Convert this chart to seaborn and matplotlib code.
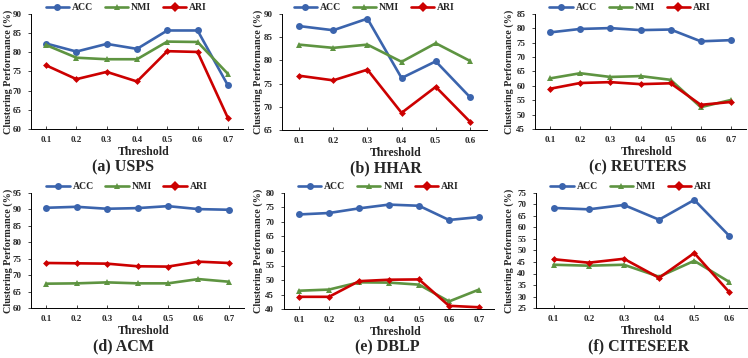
import numpy as np
import pandas as pd
import matplotlib
matplotlib.use("Agg")
import matplotlib.pyplot as plt
import seaborn as sns

sns.set_theme(style="white")
plt.rcParams['font.family'] = ['Liberation Serif', 'DejaVu Serif']
plt.rcParams['font.weight'] = 'bold'
plt.rcParams['axes.labelweight'] = 'bold'

metrics = ["ACC", "NMI", "ARI"]
thr7 = ["0.1", "0.2", "0.3", "0.4", "0.5", "0.6", "0.7"]
thr6 = ["0.1", "0.2", "0.3", "0.4", "0.5", "0.6"]

usps_acc = [82.3, 80.2, 82.2, 80.9, 85.7, 85.7, 71.4]
usps_nmi = [81.9, 78.6, 78.2, 78.2, 82.8, 82.7, 74.4]
usps_ari = [76.6, 73.0, 74.9, 72.4, 80.3, 80.1, 62.9]

hhar_acc = [87.4, 86.5, 89.0, 76.2, 79.8, 72.1]
hhar_nmi = [83.4, 82.7, 83.4, 79.7, 83.7, 79.9]
hhar_ari = [76.7, 75.7, 78.0, 68.7, 74.3, 66.8]

reut_acc = [78.6, 79.8, 80.1, 79.4, 79.6, 75.5, 75.9]
reut_nmi = [62.6, 64.4, 63.1, 63.4, 62.1, 52.6, 55.1]
reut_ari = [59.0, 61.0, 61.3, 60.6, 60.9, 53.4, 54.4]

acm_acc = [90.5, 90.8, 90.2, 90.4, 91.0, 90.1, 89.9]
acm_nmi = [67.4, 67.5, 67.8, 67.5, 67.5, 68.8, 68.0]
acm_ari = [73.7, 73.6, 73.5, 72.7, 72.6, 74.1, 73.7]

dblp_acc = [72.6, 73.1, 74.7, 76.0, 75.6, 70.7, 71.7]
dblp_nmi = [46.3, 46.7, 49.2, 49.1, 48.4, 42.6, 46.7]
dblp_ari = [44.2, 44.2, 49.6, 50.1, 50.2, 41.1, 40.6]

cite_acc = [68.5, 67.9, 69.8, 63.4, 72.0, 56.3]
cite_nmi = [43.8, 43.4, 43.8, 38.6, 45.5, 36.3]
cite_ari = [46.2, 44.7, 46.4, 38.1, 48.9, 31.8]

panels = [
    ("(a) USPS", thr7, usps_acc, usps_nmi, usps_ari, (60, 90), 5),
    ("(b) HHAR", thr6, hhar_acc, hhar_nmi, hhar_ari, (65, 90), 5),
    ("(c) REUTERS", thr7, reut_acc, reut_nmi, reut_ari, (45, 85), 5),
    ("(d) ACM", thr7, acm_acc, acm_nmi, acm_ari, (60, 95), 5),
    ("(e) DBLP", thr7, dblp_acc, dblp_nmi, dblp_ari, (40, 80), 5),
    ("(f) CITESEER", thr6, cite_acc, cite_nmi, cite_ari, (25, 75), 5),
]

# pixel boxes (left, right, top, bottom)
boxes = [
    (31, 243, 14, 129),
    (282, 487, 14, 130),
    (535, 746, 14, 129),
    (31, 244, 193, 308),
    (284, 494, 193, 309),
    (536, 747, 193, 308),
]
# pixel x-centres of the y label, the "Threshold" label and the panel caption
ylabel_x = [8.5, 258.5, 509.5, 8.5, 258.5, 509.5]
xlabel_x = [144, 396, 647, 144, 396, 647]
title_x = [123, 386, 638, 123, 387, 639]

W, H = 748, 358
palette = {"ACC": "#3B64AD", "NMI": "#5E9441", "ARI": "#CC0000"}
markers = {"ACC": "o", "NMI": "^", "ARI": "D"}
msize = {"ACC": 5, "NMI": 5, "ARI": 3.5}

fig = plt.figure(figsize=(W / 100, H / 100), dpi=100)
fig.patch.set_facecolor("white")

for (title, thr, acc, nmi, ari, ylim, step), (l, r, t, b), ylx, xlx, ttx in zip(
        panels, boxes, ylabel_x, xlabel_x, title_x):
    ax = fig.add_axes([l / W, 1 - b / H, (r - l) / W, (b - t) / H])
    n = len(thr)
    df = pd.DataFrame({
        "idx": list(range(n)) * 3,
        "value": acc + nmi + ari,
        "metric": ["ACC"] * n + ["NMI"] * n + ["ARI"] * n,
    })
    sns.lineplot(data=df, x="idx", y="value", hue="metric", style="metric",
                 markers=markers, dashes=False, palette=palette,
                 hue_order=metrics, style_order=metrics,
                 linewidth=1.9, markersize=5, markeredgewidth=0, ax=ax)
    for line, m in zip(ax.lines[:3], metrics):
        line.set_markersize(msize[m])
    ax.set_xlim(-0.5, n - 0.5)
    ax.set_ylim(*ylim)
    ax.set_xticks(range(n))
    ax.set_xticklabels(thr)
    ax.set_yticks(np.arange(ylim[0], ylim[1] + 0.1, step))
    ax.tick_params(axis="x", direction="in", length=2.5, width=0.6, labelsize=6.5, pad=5, bottom=True)
    ax.tick_params(axis="y", direction="out", length=2, width=0.6, labelsize=6.5, pad=5, left=True)
    for lab in ax.get_xticklabels() + ax.get_yticklabels():
        lab.set_fontweight("bold")
    for s in ["top", "right"]:
        ax.spines[s].set_visible(False)
    for s in ["left", "bottom"]:
        ax.spines[s].set_color("black")
        ax.spines[s].set_linewidth(0.7)
    ax.grid(False)
    ax.set_facecolor("white")
    hgt = b - t
    wid = r - l
    ax.set_xlabel("Threshold", fontsize=8.5, fontweight="bold")
    ax.xaxis.set_label_coords((xlx - l) / wid, -(152 - 129) / hgt)
    ax.xaxis.label.set_va("center")
    ax.set_ylabel("Clustering Performance (%)", fontsize=7.3, fontweight="bold")
    ax.yaxis.set_label_coords((ylx - l) / wid, 0.5)
    ax.yaxis.label.set_va("center")
    ax.text((ttx - l) / wid, -(167 - 129) / hgt, title, transform=ax.transAxes,
            ha="center", va="center", fontsize=11.5, fontweight="bold")
    leg = ax.legend(loc="center", bbox_to_anchor=(0.45, 1 + 6.5 / hgt), ncol=3,
                    frameon=False, fontsize=7, handlelength=2.4,
                    columnspacing=1.2, handletextpad=0.3, borderpad=0)
    for txt in leg.get_texts():
        txt.set_fontweight("bold")

fig.savefig("out.png", dpi=100, facecolor="white")
